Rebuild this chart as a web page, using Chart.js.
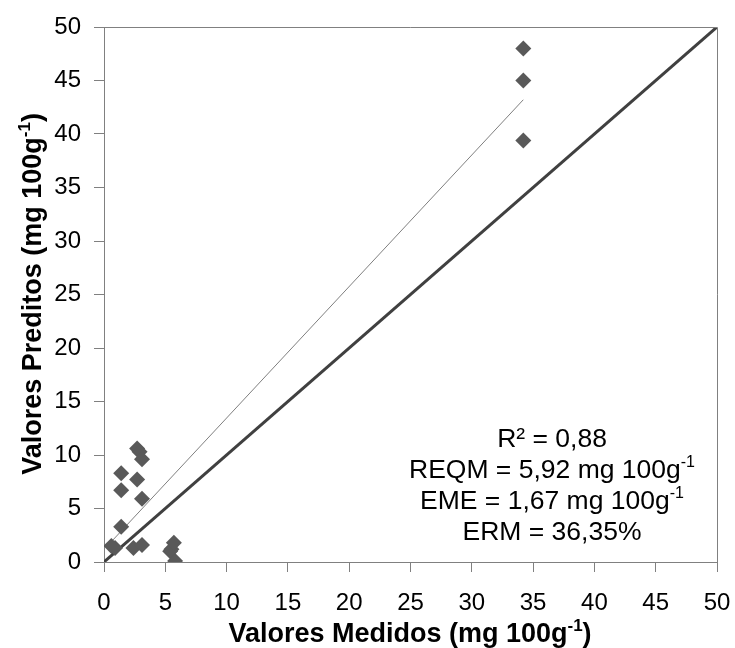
<!DOCTYPE html>
<html>
<head>
<meta charset="utf-8">
<script src="https://cdn.jsdelivr.net/npm/chart.js@4"></script>
<style>
  html, body { margin: 0; padding: 0; background: #fff; }
  #wrap { width: 735px; height: 648px; }
</style>
</head>
<body>
<div id="wrap"><canvas id="scatterChart" width="735" height="648"></canvas></div>
<script>

// measured vs predicted (mg 100g-1)
const measured  = [34.2, 34.2, 34.2, 2.7, 2.9, 3.1, 1.4, 2.7, 1.4, 3.1, 1.4, 0.6, 0.9, 2.4, 3.1, 5.5, 5.4, 5.7, 5.8];
const predicted = [48.0, 45.0, 39.4, 10.6, 10.3, 9.6, 8.3, 7.7, 6.7, 5.9, 3.3, 1.5, 1.3, 1.3, 1.6, 1.2, 1.0, 1.8, 0.1];

// fitted trend line and 1:1 line
const trendX = [0.6, 34.2];
const trendY = [1.9, 43.2];
const idealX = [0, 50];
const idealY = [0, 50];

const xTicks = [0, 5, 10, 15, 20, 25, 30, 35, 40, 45, 50];
const yTicks = [0, 5, 10, 15, 20, 25, 30, 35, 40, 45, 50];

const statLines = ['R² = 0,88', 'REQM = 5,92 mg 100g', 'EME = 1,67 mg 100g', 'ERM = 36,35%'];
const statSup   = ['', '-1', '-1', ''];

const xTitle = 'Valores Medidos (mg 100g';
const yTitle = 'Valores Preditos (mg 100g';

const FONT = '"Liberation Sans", Arial, sans-serif';

function drawRich(ctx, parts, cx, y, size, bold) {
  // parts: [{t, sup}] drawn centred on cx
  const w = bold ? 'bold ' : '';
  let total = 0;
  parts.forEach(p => {
    ctx.font = w + (p.sup ? Math.round(size * 0.62) : size) + 'px ' + FONT;
    p.w = ctx.measureText(p.t).width;
    total += p.w;
  });
  let x = cx - total / 2;
  ctx.textAlign = 'left';
  ctx.textBaseline = 'alphabetic';
  parts.forEach(p => {
    ctx.font = w + (p.sup ? Math.round(size * 0.62) : size) + 'px ' + FONT;
    ctx.fillText(p.t, x, p.sup ? y - size * 0.42 : y);
    x += p.w;
  });
}

const extrasPlugin = {
  id: 'extras',
  afterDraw(chart) {
    const ctx = chart.ctx;
    const a = chart.chartArea;
    ctx.save();
    // top and right frame
    ctx.strokeStyle = '#808080';
    ctx.lineWidth = 1;
    ctx.beginPath();
    ctx.moveTo(a.left, a.top + 0.5);
    ctx.lineTo(a.right + 0.5, a.top + 0.5);
    ctx.lineTo(a.right + 0.5, a.bottom);
    ctx.stroke();

    ctx.fillStyle = '#000';
    // stats text
    const ys = [447, 478, 509, 540];
    statLines.forEach((s, i) => {
      const parts = [{ t: s }];
      if (statSup[i]) parts.push({ t: statSup[i], sup: true });
      drawRich(ctx, parts, 552, ys[i], 26.5, false);
    });

    // axis titles
    drawRich(ctx, [{ t: xTitle }, { t: '-1', sup: true }, { t: ')' }], 410, 642, 27, true);
    ctx.translate(41, 294);
    ctx.rotate(-Math.PI / 2);
    drawRich(ctx, [{ t: yTitle }, { t: '-1', sup: true }, { t: ')' }], 0, 0, 27, true);
    ctx.restore();
  }
};

const ctx = document.getElementById('scatterChart').getContext('2d');
const scatterChart = new Chart(ctx, {
  type: 'scatter',
  data: {
    datasets: [
      {
        label: '1:1',
        data: idealX.map((x, i) => ({ x: x, y: idealY[i] })),
        showLine: true,
        borderColor: '#404040',
        borderWidth: 3,
        pointRadius: 0,
        order: 3
      },
      {
        label: 'Tendência',
        data: trendX.map((x, i) => ({ x: x, y: trendY[i] })),
        showLine: true,
        borderColor: '#7f7f7f',
        borderWidth: 1,
        pointRadius: 0,
        order: 2
      },
      {
        label: 'Valores',
        data: measured.map((x, i) => ({ x: x, y: predicted[i] })),
        pointStyle: 'rectRot',
        pointRadius: 8,
        pointHoverRadius: 8,
        backgroundColor: '#595959',
        borderColor: '#595959',
        borderWidth: 0,
        order: 1
      }
    ]
  },
  options: {
    responsive: false,
    animation: false,
    layout: { padding: { left: 0, top: 27, right: 18, bottom: 0 } },
    plugins: {
      legend: { display: false },
      tooltip: { enabled: false }
    },
    scales: {
      x: {
        type: 'linear',
        min: 0,
        max: 50,
        afterFit(scale) {
          scale.height = 86;
          scale.paddingLeft = 0;
          scale.paddingRight = 0;
        },
        afterBuildTicks(scale) { scale.ticks = xTicks.map(v => ({ value: v })); },
        grid: { display: true, drawOnChartArea: false, tickLength: 10, color: '#808080' },
        border: { display: true, color: '#808080' },
        ticks: { color: '#000', font: { family: FONT, size: 24 }, padding: 17, maxRotation: 0 }
      },
      y: {
        type: 'linear',
        min: 0,
        max: 50,
        afterFit(scale) {
          scale.width = 104;
          scale.paddingTop = 0;
          scale.paddingBottom = 0;
        },
        afterBuildTicks(scale) { scale.ticks = yTicks.map(v => ({ value: v })); },
        grid: { display: true, drawOnChartArea: false, tickLength: 10, color: '#808080' },
        border: { display: true, color: '#808080' },
        ticks: { color: '#000', font: { family: FONT, size: 24 }, padding: 13 }
      }
    }
  },
  plugins: [extrasPlugin]
});

</script>
</body>
</html>
